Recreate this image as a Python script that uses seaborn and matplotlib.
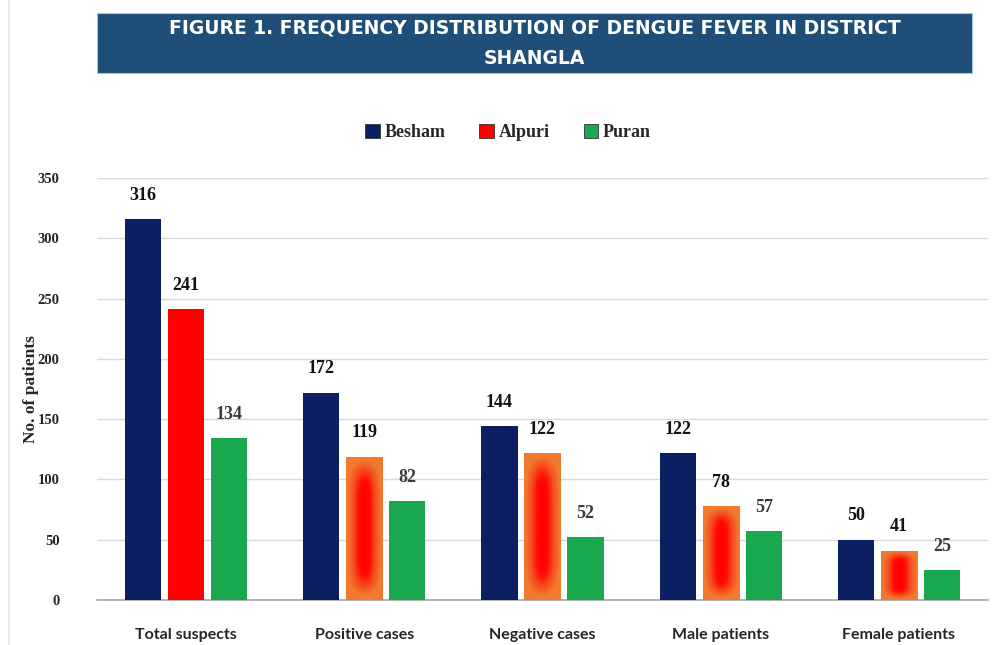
import numpy as np
import pandas as pd
import matplotlib
matplotlib.use("Agg")
import matplotlib.pyplot as plt
import seaborn as sns
from matplotlib.patches import Rectangle, Patch
from matplotlib.lines import Line2D

categories = ["Total suspects", "Positive cases", "Negative cases", "Male patients", "Female patients"]
besham = [316, 172, 144, 122, 50]
alpuri = [241, 119, 122, 78, 41]
puran = [134, 82, 52, 57, 25]
series_names = ["Besham", "Alpuri", "Puran"]
yticks = [0, 50, 100, 150, 200, 250, 300, 350]
title_text = "FIGURE 1. FREQUENCY DISTRIBUTION OF DENGUE FEVER IN DISTRICT\nSHANGLA"
ylabel_text = "No. of patients"

colors = {"Besham": "#0c1f63", "Alpuri": "#ff0000", "Puran": "#19a84e"}
label_colors = {"Besham": "#111111", "Alpuri": "#111111", "Puran": "#3a3a3a"}

df = pd.DataFrame({
    "category": categories * 3,
    "series": sum([[s] * len(categories) for s in series_names], []),
    "value": besham + alpuri + puran,
})

sns.set_theme(style="white")
fig = plt.figure(figsize=(10, 6.45), dpi=100)
ax = fig.add_axes([0.097, 0.0698, 0.891, 0.6542])

sns.barplot(data=df, x="category", y="value", hue="series", order=categories,
            hue_order=series_names, palette=colors, width=0.725, gap=0.16,
            saturation=1, edgecolor="none", linewidth=0, ax=ax, legend=False, zorder=3)

ax.set_xlim(-0.5, 4.5)
ax.set_ylim(0, 350)
ax.set_yticks(yticks)
ax.yaxis.grid(True, color="#d9d9d9", linewidth=1.0, zorder=0)
ax.xaxis.grid(False)
for s in ["top", "right", "left"]:
    ax.spines[s].set_visible(False)
ax.spines["bottom"].set_color("#a6a6a6")
ax.spines["bottom"].set_linewidth(1.2)
ax.tick_params(axis="y", length=0, pad=27)
ax.tick_params(axis="x", length=0, pad=20)
for lbl in ax.get_yticklabels():
    lbl.set_fontfamily("Liberation Serif")
    lbl.set_fontweight("bold")
    lbl.set_fontsize(10.5)
for lbl in ax.get_xticklabels():
    lbl.set_fontfamily("Lato")
    lbl.set_fontweight("bold")
    lbl.set_fontsize(11.5)
ax.set_xlabel("")
ax.set_ylabel(ylabel_text, fontfamily="Liberation Serif", fontweight="bold", fontsize=12.5, labelpad=2)
ax.yaxis.set_label_coords(-0.065, 0.5)

# gradient fill for Alpuri bars (except the first)
patches = [p for p in ax.patches if isinstance(p, Rectangle) and p.get_height() > 0]
patches.sort(key=lambda p: p.get_x())
grad_cmap = matplotlib.colors.LinearSegmentedColormap.from_list(
    "g", [(0.0, "#ff0000"), (0.3, "#ff0a05"), (0.65, "#f5501f"), (1.0, "#f27a30")])
for p in patches:
    x0, w, h = p.get_x(), p.get_width(), p.get_height()
    cat_idx = int(round(x0 + w / 2))
    off = (x0 + w / 2) - cat_idx
    s_idx = 0 if off < -0.1 else (2 if off > 0.1 else 1)
    name = series_names[s_idx]
    vals = [besham, alpuri, puran][s_idx]
    if name == "Alpuri" and cat_idx > 0:
        yy, xx = np.mgrid[-1:1:200j, -1:1:60j]
        r = np.sqrt((xx / 0.95) ** 2 + (np.abs(yy) / 0.95) ** 6)
        r = np.clip(r, 0, 1)
        im = ax.imshow(r, cmap=grad_cmap, extent=[x0, x0 + w, 0, h], aspect="auto",
                       origin="lower", zorder=3.5, interpolation="bilinear")
        im.set_clip_path(p)
    ax.annotate(f"{vals[cat_idx]}", (x0 + w / 2, h), xytext=(0, 11), textcoords="offset points",
                ha="center", va="bottom", fontfamily="Liberation Serif", fontweight="bold",
                fontsize=13, color=label_colors[name], zorder=5)
ax.set_aspect("auto")
ax.set_xlim(-0.5, 4.5)
ax.set_ylim(0, 350)

# legend
handles = [Patch(facecolor=colors[s], edgecolor="#333333", linewidth=0.6) for s in series_names]
leg = fig.legend(handles, series_names, loc="center", bbox_to_anchor=(0.508, 0.794), ncol=3,
                 frameon=False, handlelength=0.8, handleheight=0.8, handletextpad=0.25,
                 columnspacing=1.9, prop={"family": "Liberation Serif", "weight": "bold", "size": 13})

# title banner
fig.patches.append(Rectangle((0.097, 1 - 73 / 645), 0.875, 60 / 645, transform=fig.transFigure,
                             facecolor="#1f4e79", edgecolor="#9dc3e6", linewidth=0.8, zorder=1))
fig.text(0.5345, 1 - 43 / 645, title_text, ha="center", va="center", color="white",
         fontfamily="DejaVu Sans", fontweight="bold", fontsize=13.5, linespacing=1.75, zorder=2)

# faint outer frame line on the left
fig.add_artist(Line2D([0.009, 0.009], [0.0, 1.0], transform=fig.transFigure, color="#e6e6e6", linewidth=1.2))

fig.savefig("out.png", dpi=100, facecolor="white")
